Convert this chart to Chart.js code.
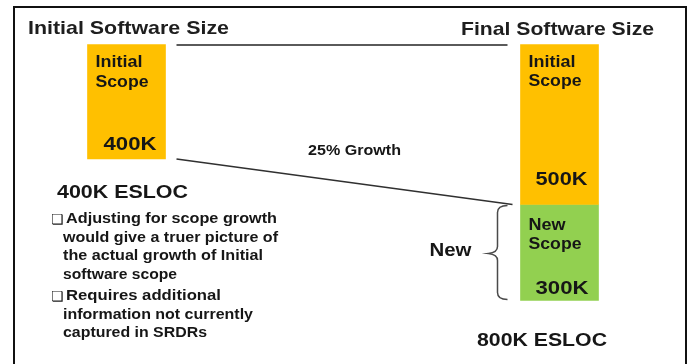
<!DOCTYPE html>
<html>
<head>
<meta charset="utf-8">
<script src="https://cdn.jsdelivr.net/npm/chart.js@4.4.1/dist/chart.umd.min.js"></script>
<style>
  html, body { margin: 0; padding: 0; background: #ffffff; }
  canvas { display: block; }
</style>
</head>
<body>
<canvas id="chart" width="691" height="364"></canvas>
<script>
// Software size in thousands of ESLOC
const categories = ['Initial Software Size', 'Final Software Size'];
const initialScope = [400, null];        // scope at program start
const grownInitialScope = [null, 500];   // the same scope after growth
const newScope = [null, 300];            // scope added later
const segmentNames = ['Initial Scope', 'Initial Scope', 'New Scope'];
const braceLabel = 'New';
const unit = 'K';
const totalUnit = 'K ESLOC';

const notes = [
  ['Adjusting for scope growth', 'would give a truer picture of', 'the actual growth of Initial', 'software scope'],
  ['Requires additional', 'information not currently', 'captured in SRDRs']
];

const ORANGE = '#FFC000';
const GREEN = '#92D050';
const INK = '#161616';
const FONT = '"Liberation Sans", Arial, Helvetica, sans-serif';

// Bold text, optionally stretched horizontally to a given width
function drawLabel(ctx, str, x, y, size, width, align, color) {
  ctx.save();
  ctx.font = 'bold ' + size + 'px ' + FONT;
  const w = ctx.measureText(str).width;
  const sx = width ? width / w : 1;
  let left = x;
  if (align === 'right') left = x - w * sx;
  else if (align === 'center') left = x - (w * sx) / 2;
  ctx.translate(left, y);
  ctx.scale(sx, 1);
  ctx.fillStyle = color || INK;
  ctx.textAlign = 'left';
  ctx.textBaseline = 'alphabetic';
  ctx.fillText(str, 0, 0);
  ctx.restore();
}

function line(ctx, pts, color, width) {
  ctx.save();
  ctx.strokeStyle = color;
  ctx.lineWidth = width;
  ctx.beginPath();
  ctx.moveTo(pts[0][0], pts[0][1]);
  for (let i = 1; i < pts.length; i++) ctx.lineTo(pts[i][0], pts[i][1]);
  ctx.stroke();
  ctx.restore();
}

const sum = (arr) => arr.reduce((a, v) => a + (v || 0), 0);

const annotations = {
  id: 'annotations',
  afterDatasetsDraw(chart) {
    const ctx = chart.ctx;
    const xs = chart.scales.x;
    const leftBar = chart.getDatasetMeta(0).data[0];
    const upperBar = chart.getDatasetMeta(1).data[1];
    const lowerBar = chart.getDatasetMeta(2).data[1];

    const edges = (el) => ({
      l: el.x - el.width / 2,
      r: el.x + el.width / 2,
      t: Math.min(el.y, el.base),
      b: Math.max(el.y, el.base)
    });
    const L = edges(leftBar), U = edges(upperBar), G = edges(lowerBar);

    // frame
    line(ctx, [[14, 364], [14, 7], [686, 7], [686, 364]], '#111111', 2);

    // column headings
    drawLabel(ctx, categories[0], xs.getPixelForValue(0) + 2, 34, 19, 201, 'center', '#1e1e1e');
    drawLabel(ctx, categories[1], xs.getPixelForValue(1) - 2, 35, 19, 193, 'center', '#1e1e1e');
    line(ctx, [[L.r + 11, 45], [U.l - 13, 45]], '#5a5a5a', 2);

    // labels inside the bars
    const scopeLabel = (b, name, topY) => {
      const parts = name.split(' ');
      drawLabel(ctx, parts[0], b.l + 8, topY, 16, parts[0] === 'Initial' ? 47 : 37);
      drawLabel(ctx, parts[1], b.l + 8, topY + 19.5, 16, 53);
    };
    scopeLabel(L, segmentNames[0], L.t + 22.5);
    scopeLabel(U, segmentNames[1], U.t + 22);
    scopeLabel(G, segmentNames[2], G.t + 25);
    drawLabel(ctx, initialScope[0] + unit, L.r - 9, L.b - 9, 18, 53, 'right');
    drawLabel(ctx, grownInitialScope[1] + unit, U.r - 11, U.b - 20, 18, 52, 'right');
    drawLabel(ctx, newScope[1] + unit, U.r - 10, G.b - 7, 18, 53, 'right');

    // growth of the initial scope
    line(ctx, [[L.r + 11, L.b], [G.l - 8, G.t]], '#303030', 1.5);
    const growth = Math.round((grownInitialScope[1] / initialScope[0] - 1) * 100);
    drawLabel(ctx, growth + '% Growth', 354.5, 155, 15.5, 93, 'center');

    // brace around the new scope
    const bx = G.l - 23, mid = (G.t + G.b) / 2;
    ctx.save();
    ctx.strokeStyle = '#4a4a4a';
    ctx.lineWidth = 1.5;
    ctx.beginPath();
    ctx.moveTo(bx + 10, G.t + 1);
    ctx.quadraticCurveTo(bx, G.t + 1, bx, G.t + 8);
    ctx.lineTo(bx, mid - 6);
    ctx.quadraticCurveTo(bx, mid, bx - 9, mid + 1);
    ctx.quadraticCurveTo(bx, mid + 2, bx, mid + 8);
    ctx.lineTo(bx, G.b - 8);
    ctx.quadraticCurveTo(bx, G.b - 1, bx + 10, G.b - 1);
    ctx.stroke();
    ctx.restore();
    drawLabel(ctx, braceLabel, bx - 26, mid + 3, 18, 42, 'right');

    // totals
    drawLabel(ctx, sum(initialScope) + totalUnit, 57, 198, 18.5, 131);
    drawLabel(ctx, (sum(grownInitialScope) + sum(newScope)) + totalUnit, 477, 346, 19, 130);

    // notes
    const baselines = [[223, 241.5, 260, 278.5], [300, 318.5, 337]];
    const widths = [[211, 215, 200, 114], [155, 190, 144]];
    notes.forEach((group, gi) => {
      group.forEach((txt, li) => {
        const y = baselines[gi][li];
        if (li === 0) {
          ctx.save();
          ctx.font = '14px "DejaVu Sans", sans-serif';
          ctx.fillStyle = INK;
          ctx.textBaseline = 'alphabetic';
          ctx.fillText('\u274F', 51, y + 0.5);
          ctx.restore();
        }
        drawLabel(ctx, txt, li === 0 ? 66 : 63, y, 15, widths[gi][li]);
      });
    });
  }
};

new Chart(document.getElementById('chart'), {
  type: 'bar',
  data: {
    labels: categories,
    datasets: [
      { label: segmentNames[0], data: initialScope, backgroundColor: ORANGE, yAxisID: 'yInitial', clip: false },
      { label: segmentNames[1], data: grownInitialScope, backgroundColor: ORANGE, yAxisID: 'yFinal', clip: false },
      { label: segmentNames[2], data: newScope, backgroundColor: GREEN, yAxisID: 'yFinal', clip: false }
    ]
  },
  options: {
    responsive: false,
    animation: false,
    devicePixelRatio: 1,
    grouped: false,
    barThickness: 78,
    borderWidth: 0,
    layout: { padding: { left: 126.5, right: 131.5, top: 44.5, bottom: 63.5 } },
    plugins: { legend: { display: false }, tooltip: { enabled: false }, title: { display: false } },
    scales: {
      x: { type: 'category', offset: false, display: false },
      yInitial: { type: 'linear', reverse: true, min: 0, max: 895, display: false },
      yFinal: { type: 'linear', reverse: true, min: 0, max: 800, stacked: true, display: false }
    }
  },
  plugins: [annotations]
});
</script>
</body>
</html>
